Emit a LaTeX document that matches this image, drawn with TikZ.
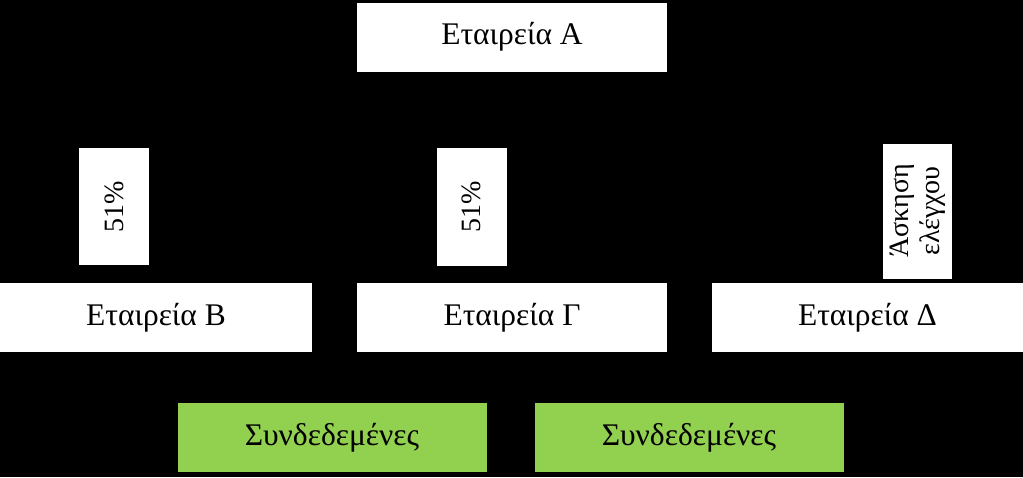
\documentclass[tikz,border=0pt]{standalone}
\usepackage{fontspec}
\setmainfont{Liberation Serif}
\usetikzlibrary{calc}
\definecolor{sgreen}{RGB}{146,208,80}
\begin{document}
\begin{tikzpicture}[x=1pt,y=-1pt,
  box/.style={draw=none,fill=white,inner sep=0pt,font=\fontsize{31.5}{34}\selectfont},
  gbox/.style={draw=none,fill=sgreen,inner sep=0pt,font=\fontsize{31.5}{34}\selectfont},
  lbl/.style={fill=white,inner sep=0pt,rotate=90,align=center,font=\fontsize{28}{31}\selectfont},
  conn/.style={draw=black,line width=1pt}]
\fill[black] (0,0) rectangle (1023,477);
\useasboundingbox (0,0) rectangle (1023,477);
\node[box,minimum width=310pt,minimum height=69pt] (A) at (512,37) {Εταιρεία Α};
\node[box,minimum width=312pt,minimum height=69pt] (B) at (156,317.5) {Εταιρεία Β};
\node[box,minimum width=310pt,minimum height=69pt] (C) at (512,317.5) {Εταιρεία Γ};
\node[box,minimum width=311pt,minimum height=69pt] (D) at (867.5,317.5) {Εταιρεία Δ};
\node[gbox,minimum width=309pt,minimum height=69pt] (S1) at (332,437.5) {Συνδεδεμένες};
\node[gbox,minimum width=309pt,minimum height=69pt] (S2) at (689,437.5) {Συνδεδεμένες};
\coordinate (m) at ($(A.south)!0.5!(C.north)$);
\draw[conn] (A.south) -- (C.north);
\draw[conn] (m) -| (B.north);
\draw[conn] (m) -| (D.north);
\node[lbl,minimum width=117pt,minimum height=70pt] (L1) at (114,206.5) {51\%};
\node[lbl,minimum width=118pt,minimum height=70pt] (L2) at (471.5,207) {51\%};
\node[lbl,minimum width=135pt,minimum height=69pt] (L3) at (917.5,211) {Άσκηση\\ελέγχου};
\end{tikzpicture}
\end{document}
